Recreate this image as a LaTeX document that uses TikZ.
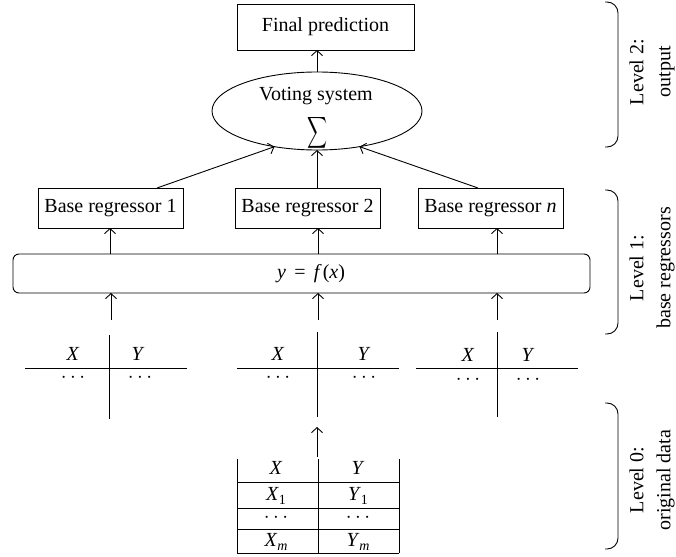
\documentclass[tikz,border=0pt]{standalone}
\usepackage{fontspec}
\setmainfont{Liberation Serif}
\usetikzlibrary{arrows.meta,shapes.geometric}

\newcommand{\subsc}[1]{\raisebox{-4pt}{\fontsize{14}{14}\selectfont #1}}

\begin{document}
\begin{tikzpicture}[x=1pt,y=-1pt,
  every node/.style={font=\fontsize{20}{24}\selectfont, inner sep=0pt, outer sep=0pt},
  box/.style={draw, line width=0.9pt, minimum width=145pt, minimum height=40pt},
  arr/.style={line width=0.9pt, -{Straight Barb[length=5pt,width=11pt]}},
  rule/.style={line width=0.9pt},
  cell/.style={anchor=base},
  lvl/.style={rotate=90, align=center, font=\fontsize{20}{27}\selectfont}
]
\useasboundingbox (0,0) rectangle (676,556);

% column positions of the three data streams
\coordinate (c1) at (110,0);
\coordinate (c2) at (318,0);
\coordinate (c3) at (497,0);

% ---------- level 2 ----------
\node[box, minimum width=177pt, minimum height=46pt] (fp) at (325.5,27) {Final prediction};
\node[draw, ellipse, line width=0.9pt, minimum width=210pt, minimum height=78pt] (vote) at (317,111) {};
\node (votetxt) at (316,96) {Voting system};
\node (sigma) at (317,133) {\resizebox{20pt}{29pt}{$\displaystyle\sum$}};
\draw[arr] (vote.north) -- (vote.north |- fp.south);

% ---------- level 1 ----------
\node[box] (b1) at (110.5,208) {Base regressor 1};
\node[box] (b2) at (307.5,208) {Base regressor 2};
\node[box] (bn) at (490.5,208) {Base regressor \textit{n}};

\coordinate (s1) at (157,188);
\coordinate (sn) at (478,188);
\draw[arr] (s1) -- (vote.220);
\draw[arr] (vote.south |- b2.north) -- (vote.south);
\draw[arr] (sn) -- (vote.320);

\node[draw, rounded corners=6pt, line width=0.9pt, minimum width=577pt, minimum height=39pt] (fx) at (301.5,273.5) {};
\node (fxtxt) at (311,274) {\textit{y}\, = \,\textit{f}\kern1pt(\textit{x})};

\draw[arr] (c1 |- fx.north) -- (c1 |- b1.south);
\draw[arr] (c2 |- fx.north) -- (c2 |- b2.south);
\draw[arr] (c3 |- fx.north) -- (c3 |- bn.south);

\coordinate (t1) at (111,320);
\coordinate (t2) at (318,320);
\coordinate (t3) at (497,320);
\draw[arr] (t1) -- (t1 |- fx.south);
\draw[arr] (t2) -- (t2 |- fx.south);
\draw[arr] (t3) -- (t3 |- fx.south);

% ---------- sampled data sets ----------
\draw[rule] (25,368) -- (187,368);
\draw[rule] (109,335) -- (109,419);
\node[cell] (x1) at (73,360) {\textit{X}};
\node[cell] (y1) at (138,360) {\textit{Y}};
\node[cell] (d1a) at (73,382) {$\cdots$};
\node[cell] (d1b) at (140,382) {$\cdots$};

\draw[rule] (237,368) -- (399,368);
\draw[rule] (317,332) -- (317,417);
\node[cell] (x2) at (278,360) {\textit{X}};
\node[cell] (y2) at (364,360) {\textit{Y}};
\node[cell] (d2a) at (278,382) {$\cdots$};
\node[cell] (d2b) at (364,382) {$\cdots$};

\draw[rule] (416,368) -- (578,368);
\draw[rule] (497,332) -- (497,417);
\node[cell] (x3) at (468,361) {\textit{X}};
\node[cell] (y3) at (528,361) {\textit{Y}};
\node[cell] (d3a) at (468,384) {$\cdots$};
\node[cell] (d3b) at (528,384) {$\cdots$};

% ---------- level 0: original data ----------
\coordinate (o1) at (317,457);
\coordinate (o2) at (317,427);
\draw[arr] (o1) -- (o2);

\draw[rule] (237,459) -- (237,553);
\draw[rule] (318,459) -- (318,553);
\draw[rule] (399,459) -- (399,553);
\draw[rule] (237,482) -- (399,482);
\draw[rule] (237,508) -- (399,508);
\draw[rule] (237,529) -- (399,529);
\draw[rule] (237,553) -- (399,553);
\node[cell] (ox) at (276,474) {\textit{X}};
\node[cell] (oy) at (358,474) {\textit{Y}};
\node[cell] (ox1) at (276,500) {\textit{X}\subsc{1}};
\node[cell] (oy1) at (358,500) {\textit{Y}\subsc{1}};
\node[cell] (oxd) at (276,522) {$\cdots$};
\node[cell] (oyd) at (358,522) {$\cdots$};
\node[cell] (oxm) at (276,546) {\textit{X}\subsc{\itshape m}};
\node[cell] (oym) at (358,546) {\textit{Y}\subsc{\itshape m}};

% ---------- level braces ----------
\draw[rule, rounded corners=11pt] (605,2) -- (618,2) -- (618,147) -- (605,147);
\draw[rule, rounded corners=11pt] (605,190) -- (618,190) -- (618,334) -- (605,334);
\draw[rule, rounded corners=11pt] (605,403) -- (618,403) -- (618,549) -- (605,549);

\node[lvl] (l2) at (652,72) {Level 2:\\output};
\node[lvl] (l1) at (652,268) {Level 1:\\base regressors};
\node[lvl] (l0) at (652,480) {Level 0:\\original data};
\end{tikzpicture}
\end{document}
